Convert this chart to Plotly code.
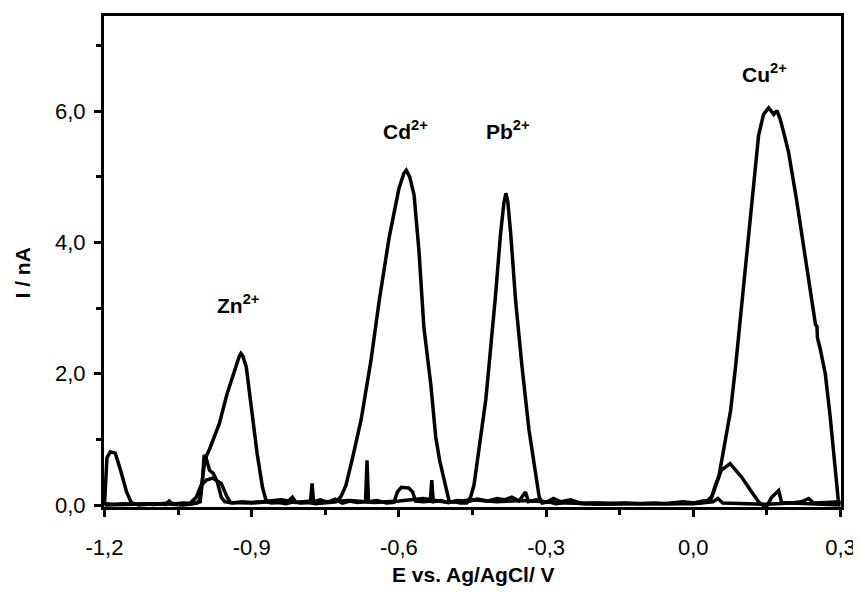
import plotly.graph_objects as go

# main voltammogram (Zn, Cd, Pb, Cu stripping peaks)
main_e = [-1.2, -1.18, -1.16, -1.14, -1.12, -1.1, -1.085, -1.07, -1.055, -1.04, -1.025, -1.012,
          -1.006, -1.0, -0.995, -0.986, -0.966, -0.95, -0.931, -0.925, -0.922, -0.918, -0.911,
          -0.899, -0.889, -0.878, -0.87, -0.86, -0.845, -0.83, -0.815, -0.8, -0.785, -0.77,
          -0.755, -0.74, -0.728, -0.718, -0.708, -0.695, -0.677, -0.657, -0.64, -0.62, -0.6,
          -0.59, -0.585, -0.578, -0.569, -0.559, -0.549, -0.535, -0.525, -0.517, -0.51, -0.503,
          -0.497, -0.485, -0.475, -0.462, -0.454, -0.447, -0.437, -0.433, -0.423, -0.416, -0.41,
          -0.403, -0.393, -0.386, -0.382, -0.378, -0.372, -0.362, -0.349, -0.335, -0.321,
          -0.314, -0.308, -0.295, -0.28, -0.26, -0.24, -0.22, -0.2, -0.17, -0.14, -0.11, -0.08,
          -0.05, -0.02, 0.0, 0.015, 0.028, 0.038, 0.052, 0.065, 0.076, 0.086, 0.097, 0.104,
          0.113, 0.123, 0.133, 0.143, 0.1535, 0.159, 0.164, 0.1705, 0.177, 0.185, 0.194, 0.21,
          0.221, 0.231, 0.239, 0.245, 0.249, 0.252, 0.253, 0.258, 0.269, 0.279, 0.286, 0.292,
          0.296, 0.3]
main_i = [0.02, 0.01, 0.02, 0.01, 0.02, 0.01, 0.02, 0.03, 0.02, 0.03, 0.02, 0.03,
          0.08, 0.45, 0.70, 0.85, 1.24, 1.70, 2.15, 2.27, 2.31, 2.27, 2.10,
          1.39, 0.79, 0.27, 0.05, 0.03, 0.04, 0.02, 0.05, 0.03, 0.04, 0.02,
          0.03, 0.04, 0.05, 0.13, 0.30, 0.70, 1.30, 2.20, 3.12, 4.07, 4.82,
          5.05, 5.10, 5.00, 4.72, 3.86, 2.70, 1.84, 1.04, 0.68, 0.45, 0.20,
          0.04, 0.05, 0.03, 0.03, 0.12, 0.30, 0.85, 1.09, 1.60, 2.15, 2.60,
          3.20, 4.12, 4.60, 4.75, 4.62, 4.12, 3.10, 2.10, 1.15, 0.46,
          0.12, 0.03, 0.05, 0.02, 0.04, 0.03, 0.02, 0.03, 0.02, 0.03, 0.02, 0.03,
          0.02, 0.03, 0.03, 0.03, 0.06, 0.13, 0.43, 0.94, 1.44, 2.10, 2.90, 3.45,
          4.12, 4.87, 5.63, 5.95, 6.05, 6.00, 5.95, 6.01, 5.88, 5.65, 5.38, 4.67,
          4.12, 3.60, 3.20, 2.95, 2.75, 2.72, 2.55, 2.40, 2.00, 1.34, 0.83, 0.27,
          0.03, 0.02]

# second scan: small peaks and spikes
small_e = [-1.2, -1.197, -1.195, -1.188, -1.178, -1.168, -1.155, -1.145, -1.13, -1.1, -1.075,
           -1.068, -1.062, -1.04, -1.02, -1.005, -1.0, -0.997, -0.993, -0.986, -0.978, -0.97,
           -0.962, -0.955, -0.94, -0.92, -0.9, -0.88, -0.86, -0.84, -0.825, -0.817, -0.81,
           -0.79, -0.78, -0.777, -0.774, -0.76, -0.745, -0.73, -0.715, -0.7, -0.685, -0.668,
           -0.665, -0.662, -0.645, -0.625, -0.61, -0.603, -0.595, -0.58, -0.572, -0.566, -0.55,
           -0.536, -0.533, -0.53, -0.515, -0.5, -0.48, -0.46, -0.44, -0.42, -0.4, -0.385, -0.37,
           -0.355, -0.342, -0.336, -0.32, -0.3, -0.285, -0.27, -0.25, -0.23, -0.2, -0.15, -0.1,
           -0.06, -0.02, 0.0, 0.02, 0.035, 0.045, 0.057, 0.075, 0.098, 0.119, 0.133, 0.148,
           0.16, 0.174, 0.18, 0.2, 0.22, 0.235, 0.245, 0.27, 0.3]
small_i = [0.0, 0.4, 0.72, 0.81, 0.79, 0.55, 0.2, 0.03, 0.0, 0.02, 0.01,
           0.06, 0.01, 0.0, 0.02, 0.05, 0.4, 0.76, 0.72, 0.53, 0.48, 0.35,
           0.12, 0.05, 0.03, 0.05, 0.04, 0.05, 0.06, 0.08, 0.06, 0.12, 0.04,
           0.05, 0.06, 0.33, 0.05, 0.08, 0.04, 0.09, 0.03, 0.06, 0.04, 0.05,
           0.68, 0.05, 0.07, 0.03, 0.04, 0.2, 0.27, 0.26, 0.2, 0.06, 0.05,
           0.06, 0.38, 0.05, 0.07, 0.04, 0.07, 0.05, 0.09, 0.06, 0.1, 0.08, 0.12,
           0.06, 0.2, 0.05, 0.08, 0.04, 0.1, 0.05, 0.08, 0.03, 0.03, 0.02, 0.03,
           0.02, 0.05, 0.03, 0.06, 0.07, 0.3, 0.53, 0.63, 0.43, 0.2, 0.05, -0.04,
           0.12, 0.22, 0.04, 0.03, 0.05, 0.1, 0.03, 0.04, 0.05]

# third scan: broad Zn shoulder, otherwise baseline
third_e = [-1.2, -1.15, -1.1, -1.05, -1.025, -1.013, -1.003, -0.992, -0.98, -0.962, -0.95,
           -0.943, -0.9, -0.85, -0.8, -0.75, -0.7, -0.65, -0.6, -0.55, -0.5, -0.45, -0.4,
           -0.35, -0.3, -0.25, -0.2, -0.1, 0.0, 0.04, 0.05, 0.06, 0.1, 0.15, 0.2, 0.25, 0.3]
third_i = [0.0, 0.01, 0.02, 0.01, 0.03, 0.12, 0.3, 0.38, 0.41, 0.33, 0.12,
           0.04, 0.03, 0.06, 0.04, 0.05, 0.07, 0.04, 0.06, 0.1, 0.04, 0.08, 0.05,
           0.07, 0.05, 0.02, 0.01, 0.02, 0.02, 0.05, 0.1, 0.03, 0.02, 0.01, 0.03, 0.02, 0.0]

ion_labels = ["Zn<sup>2+</sup>", "Cd<sup>2+</sup>", "Pb<sup>2+</sup>", "Cu<sup>2+</sup>"]
label_e = [-0.927, -0.587, -0.377, 0.146]
label_i = [3.07, 5.72, 5.72, 6.58]

x_tickvals = [-1.2, -0.9, -0.6, -0.3, 0.0, 0.3]
x_ticktext = ["-1,2", "-0,9", "-0,6", "-0,3", "0,0", "0,3"]
x_minor = [-1.05, -0.75, -0.45, -0.15, 0.15]
y_tickvals = [0, 2, 4, 6]
y_ticktext = ["0,0", "2,0", "4,0", "6,0"]
y_minor = [1, 3, 5, 7]

FONT = "Liberation Sans, Arial, sans-serif"

fig = go.Figure()
for xs, ys in [(third_e, third_i), (small_e, small_i), (main_e, main_i)]:
    fig.add_trace(go.Scatter(x=xs, y=ys, mode="lines", line=dict(color="black", width=3.5),
                             showlegend=False, hoverinfo="skip"))

for txt, xe, yi in zip(ion_labels, label_e, label_i):
    fig.add_annotation(x=xe, y=yi, text="<b>" + txt + "</b>", showarrow=False,
                       xanchor="center", yanchor="middle",
                       font=dict(family=FONT, size=21, color="black"))

# axis titles as annotations (y title sits a bit below centre in the original)
fig.add_annotation(x=0.501, y=-0.138, xref="paper", yref="paper", text="<b>E vs. Ag/AgCl/ V</b>",
                   showarrow=False, xanchor="center", yanchor="middle",
                   font=dict(family=FONT, size=21, color="black"))
fig.add_annotation(x=-0.111, y=0.476, xref="paper", yref="paper", text="<b>I / nA</b>", textangle=-90,
                   showarrow=False, xanchor="center", yanchor="middle",
                   font=dict(family=FONT, size=21, color="black"))

axis_common = dict(showline=True, linewidth=3, linecolor="black", mirror=True, showgrid=False,
                   zeroline=False, ticks="outside", ticklen=7, tickwidth=2.5, tickcolor="black",
                   tickfont=dict(family=FONT, size=22, color="black"))

fig.update_xaxes(range=[-1.201, 0.301], tickmode="array", tickvals=x_tickvals, ticktext=x_ticktext,
                 ticklabelstandoff=12,
                 minor=dict(tickmode="array", tickvals=x_minor, ticks="outside", ticklen=5,
                            tickwidth=2.5, tickcolor="black"),
                 **axis_common)
fig.update_yaxes(range=[-0.03, 7.45], tickmode="array", tickvals=y_tickvals, ticktext=y_ticktext,
                 ticklabelstandoff=4,
                 minor=dict(tickmode="array", tickvals=y_minor, ticks="outside", ticklen=5,
                            tickwidth=2.5, tickcolor="black"),
                 **axis_common)

# page body adds an 8px offset, so the figure is sized to fit the window
fig.update_layout(width=853, height=587, margin=dict(l=96, r=19, t=5, b=88),
                  paper_bgcolor="white", plot_bgcolor="white", showlegend=False)

fig.write_html("out.html")
